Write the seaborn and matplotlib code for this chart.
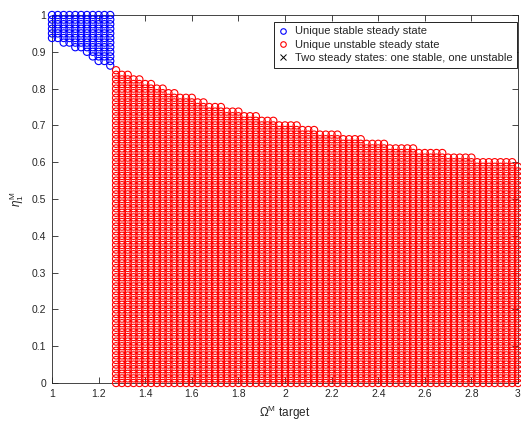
import numpy as np
import pandas as pd
import matplotlib
matplotlib.use("Agg")
import matplotlib.pyplot as plt
from matplotlib.lines import Line2D
import seaborn as sns

# ---- data ----
y_step = 0.0125
blue_x = [1.0, 1.025, 1.05, 1.075, 1.1, 1.125, 1.15, 1.175, 1.2, 1.225, 1.25]
blue_ymin = [0.9375, 0.9375, 0.925, 0.925, 0.9125, 0.9125, 0.9, 0.8875, 0.875, 0.875, 0.8625]

red_x = [round(1.275 + 0.025 * k, 4) for k in range(70)]
red_ymax = ([0.85] + [0.8375] * 2 + [0.825] * 2 + [0.8125] * 2 + [0.8] * 2 + [0.7875] * 2
            + [0.775] * 3 + [0.7625] * 2 + [0.75] * 3 + [0.7375] * 3 + [0.725] * 3
            + [0.7125] * 3 + [0.7] * 4 + [0.6875] * 3 + [0.675] * 4 + [0.6625] * 4
            + [0.65] * 4 + [0.6375] * 5 + [0.625] * 5 + [0.6125] * 5 + [0.6] * 7 + [0.5875])

legend_labels = ["Unique stable steady state", "Unique unstable steady state",
                 "Two steady states: one stable, one unstable"]
x_ticks = [1, 1.2, 1.4, 1.6, 1.8, 2, 2.2, 2.4, 2.6, 2.8, 3]
x_tick_labels = ["1", "1.2", "1.4", "1.6", "1.8", "2", "2.2", "2.4", "2.6", "2.8", "3"]
y_ticks = [0, 0.1, 0.2, 0.3, 0.4, 0.5, 0.6, 0.7, 0.8, 0.9, 1]
y_tick_labels = ["0", "0.1", "0.2", "0.3", "0.4", "0.5", "0.6", "0.7", "0.8", "0.9", "1"]

y_levels = np.round(np.arange(0, 81) * y_step, 4)

rows = []
for x, ymin in zip(blue_x, blue_ymin):
    for y in y_levels:
        if y >= ymin - 1e-9:
            rows.append((x, y, "stable"))
for x, ymax in zip(red_x, red_ymax):
    for y in y_levels:
        if y <= ymax + 1e-9:
            rows.append((x, y, "unstable"))
df = pd.DataFrame(rows, columns=["omega", "eta", "kind"])

# ---- plotting ----
sns.set_style("ticks")
plt.rcParams["font.family"] = ["Liberation Sans", "DejaVu Sans"]
plt.rcParams["mathtext.fontset"] = "custom"
plt.rcParams["mathtext.rm"] = "Liberation Sans"
plt.rcParams["mathtext.it"] = "Liberation Sans:italic"

fig = plt.figure(figsize=(5.21, 4.21), dpi=100)
ax = fig.add_axes([52 / 521, 1 - 383 / 421, 466 / 521, 368 / 421])

colors = {"stable": (0, 0, 1), "unstable": (1, 0, 0)}
for kind in ["stable", "unstable"]:
    sub = df[df["kind"] == kind]
    sns.scatterplot(data=sub, x="omega", y="eta", ax=ax, color=colors[kind],
                    s=27, marker="o", linewidth=0.8, legend=False)
    coll = ax.collections[-1]
    coll.set_facecolor("none")
    coll.set_edgecolor(colors[kind])
    coll.set_clip_on(False)
    coll.set_zorder(3)

ax.set_xlim(1, 3)
ax.set_ylim(0, 1)
ax.set_xticks(x_ticks)
ax.set_xticklabels(x_tick_labels)
ax.set_yticks(y_ticks)
ax.set_yticklabels(y_tick_labels)

axis_col = "#262626"
for sp in ax.spines.values():
    sp.set_visible(True)
    sp.set_color(axis_col)
    sp.set_linewidth(0.6)
ax.tick_params(direction="in", length=4, width=0.6, colors=axis_col,
               labelsize=7.5, top=True, right=True, pad=4)
for lab in ax.get_xticklabels() + ax.get_yticklabels():
    lab.set_color(axis_col)

ax.set_xlabel(r"$\Omega^{\mathrm{M}}$ target", fontsize=8.5, color=axis_col, labelpad=4)
ax.set_ylabel(r"$\eta_1^{\mathrm{M}}$", fontsize=8.5, color=axis_col, labelpad=4)

handles = [
    Line2D([], [], linestyle="none", marker="o", markersize=4, markerfacecolor="none",
           markeredgecolor=(0, 0, 1), markeredgewidth=0.8),
    Line2D([], [], linestyle="none", marker="o", markersize=4, markerfacecolor="none",
           markeredgecolor=(1, 0, 0), markeredgewidth=0.8),
    Line2D([], [], linestyle="none", marker="x", markersize=4,
           markeredgecolor="black", markeredgewidth=0.7),
]
leg = ax.legend(handles, legend_labels, loc="upper right",
                bbox_to_anchor=(0.998, 0.981), borderaxespad=0, fontsize=8,
                frameon=True, fancybox=False, handlelength=0.8, handletextpad=0.7,
                labelspacing=0.3, borderpad=0.4)
leg.get_frame().set_edgecolor("black")
leg.get_frame().set_linewidth(0.6)
leg.get_frame().set_alpha(1)
leg.set_zorder(5)

fig.savefig("out.png", dpi=100)
